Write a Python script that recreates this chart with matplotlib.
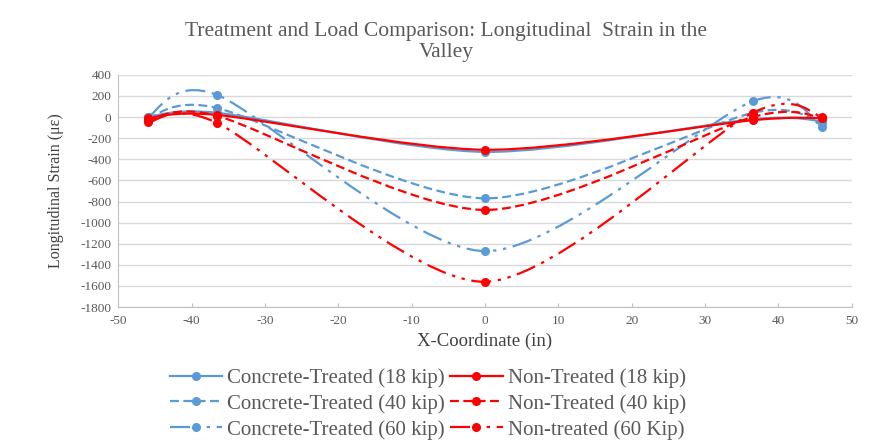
import matplotlib
matplotlib.use("Agg")
import matplotlib.pyplot as plt
from matplotlib.path import Path
from matplotlib.patches import PathPatch
from matplotlib.lines import Line2D

# data
x_coord = [-46, -36.5, 0, 36.5, 46]
ct_18 = [0, 40, -330, -20, -40]
ct_40 = [-10, 85, -770, 40, -60]
ct_60 = [0, 208, -1270, 150, -95]
nt_18 = [-10, 20, -310, -30, -10]
nt_40 = [-30, 10, -880, 0, -10]
nt_60 = [-50, -57, -1560, 40, 0]

x_ticks = list(range(-50, 51, 10))
y_ticks = list(range(-1800, 401, 200))

blue = "#5B9BD5"
red = "#FF0000"
tick_color = "#595959"
serif = ["Liberation Serif", "DejaVu Serif"]
plt.rcParams["axes.unicode_minus"] = False

dash = (0, (4, 2))
dash_dot = (0, (9, 3, 1.5, 3, 1.5, 3))
series = [
    ("Concrete-Treated (18 kip)", ct_18, blue, "-"),
    ("Concrete-Treated (40 kip)", ct_40, blue, dash),
    ("Concrete-Treated (60 kip)", ct_60, blue, dash_dot),
    ("Non-Treated (18 kip)", nt_18, red, "-"),
    ("Non-Treated (40 kip)", nt_40, red, dash),
    ("Non-treated (60 Kip)", nt_60, red, dash_dot),
]


def smooth_path(xs, ys, k=0.135):
    """Catmull-Rom style bezier path through the points (like Excel smoothing)."""
    pts = list(zip(xs, ys))
    verts = [pts[0]]
    codes = [Path.MOVETO]
    n = len(pts)
    for i in range(n - 1):
        p0 = pts[i - 1] if i > 0 else pts[i]
        p1 = pts[i]
        p2 = pts[i + 1]
        p3 = pts[i + 2] if i + 2 < n else pts[i + 1]
        c1 = (p1[0] + (p2[0] - p0[0]) * k, p1[1] + (p2[1] - p0[1]) * k)
        c2 = (p2[0] - (p3[0] - p1[0]) * k, p2[1] - (p3[1] - p1[1]) * k)
        verts += [c1, c2, p2]
        codes += [Path.CURVE4] * 3
    return Path(verts, codes)


fig = plt.figure(figsize=(8.7, 4.4), dpi=100)
ax = fig.add_axes([0.136, 0.302, 0.843, 0.528])

handles = []
for label, values, color, style in series:
    patch = PathPatch(smooth_path(x_coord, values), fill=False, edgecolor=color,
                      linewidth=1.6, linestyle=style, zorder=3)
    ax.add_patch(patch)
    ax.plot(x_coord, values, linestyle="none", marker="o", markersize=5.5,
            color=color, zorder=4)
    handles.append(Line2D([], [], color=color, linewidth=1.6, linestyle=style,
                          marker="o", markersize=5.5, label=label))

ax.set_xlim(-50, 50)
ax.set_ylim(-1800, 400)
ax.set_xticks(x_ticks)
ax.set_yticks(y_ticks)
ax.grid(axis="y", color="#D9D9D9", linewidth=1)
ax.set_axisbelow(True)
for side in ["top", "right"]:
    ax.spines[side].set_visible(False)
for side in ["left", "bottom"]:
    ax.spines[side].set_color("#BFBFBF")
ax.tick_params(axis="y", length=0, labelsize=9.5, labelcolor=tick_color, pad=5)
ax.tick_params(axis="x", direction="in", length=3, color="#BFBFBF",
               labelsize=9.5, labelcolor=tick_color, pad=6)
for lab in ax.get_xticklabels() + ax.get_yticklabels():
    lab.set_family(serif)

ax.set_xlabel("X-Coordinate (in)", family=serif, fontsize=13.5, color="#404040", labelpad=4)
ax.set_ylabel("Longitudinal Strain (\u03bc\u03b5)", family=serif, fontsize=11.5,
              color="#404040", labelpad=12)
fig.text(0.513, 0.904, "Treatment and Load Comparison: Longitudinal  Strain in the\nValley",
         ha="center", va="center", family=serif, fontsize=15.5, color="#595959",
         linespacing=1.15)

fig.legend(handles=handles, ncol=2, loc="center", bbox_to_anchor=(0.492, 0.082),
           frameon=False, prop={"family": serif, "size": 15}, labelcolor="#595959",
           handlelength=2.5, handletextpad=0.25, columnspacing=0.25, labelspacing=0.3)

fig.savefig("out.png", dpi=100)
